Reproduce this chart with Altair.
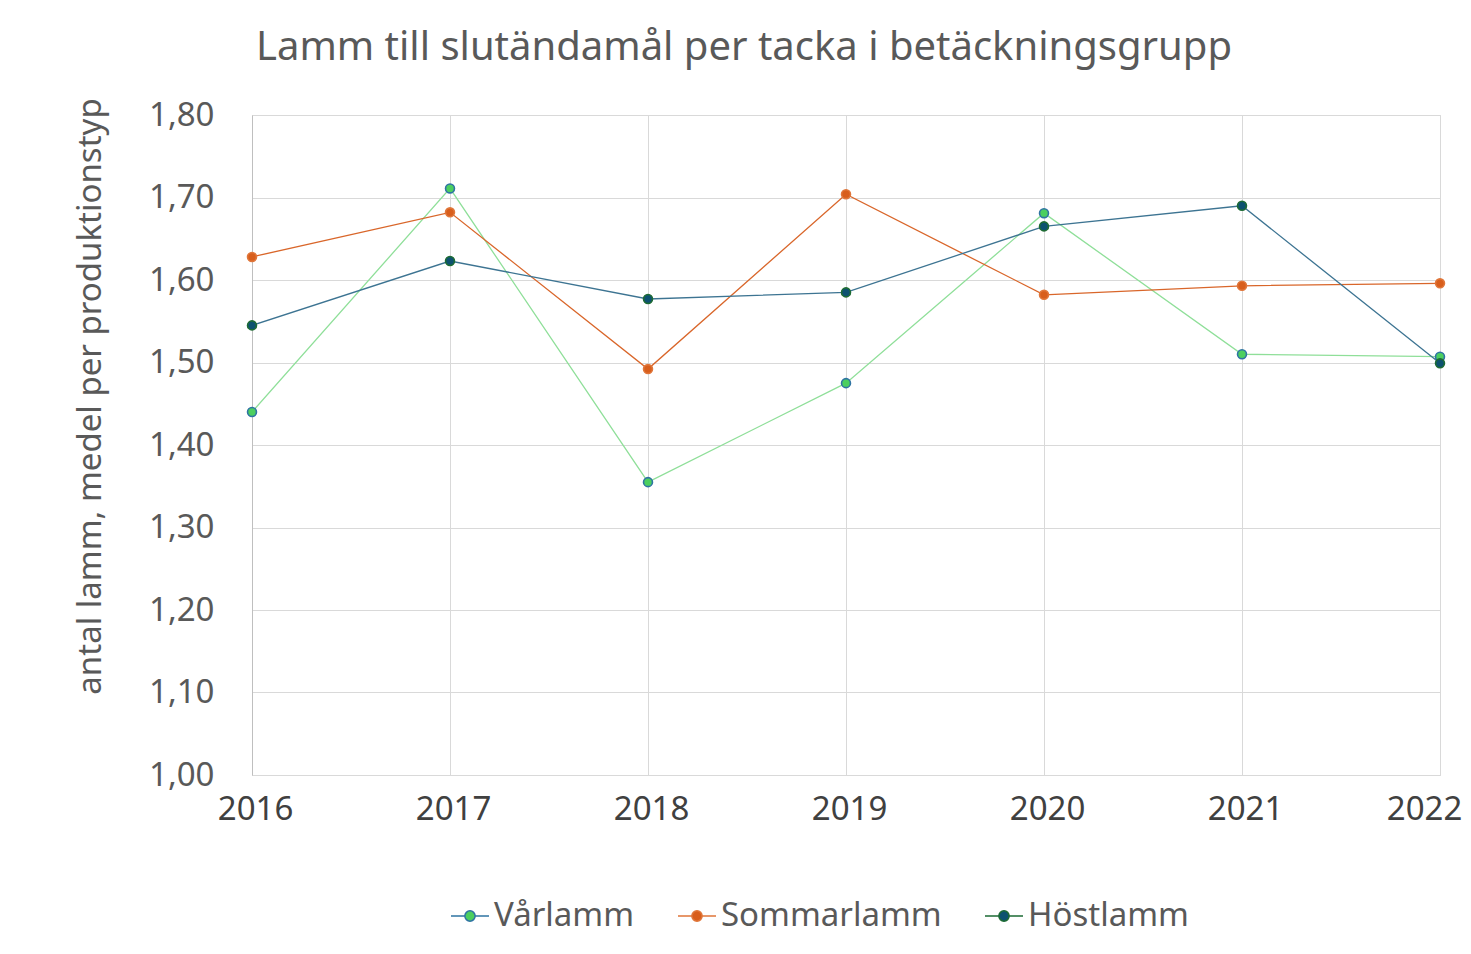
import altair as alt
import pandas as pd

years = [2016, 2017, 2018, 2019, 2020, 2021, 2022]
series_names = ["Vårlamm", "Sommarlamm", "Höstlamm"]
varlamm = [1.440, 1.711, 1.355, 1.475, 1.681, 1.510, 1.507]
sommarlamm = [1.628, 1.682, 1.492, 1.704, 1.582, 1.593, 1.596]
hostlamm = [1.545, 1.623, 1.577, 1.585, 1.665, 1.690, 1.499]
y_ticks = [1.0, 1.1, 1.2, 1.3, 1.4, 1.5, 1.6, 1.7, 1.8]

line_colors = ["#8fdf99", "#d9662a", "#3d7492"]
marker_fill = ["#4ccf5f", "#d85e1c", "#0d5270"]
marker_stroke = ["#2f74a3", "#e0763a", "#1d6b34"]

rows = []
for name, vals in zip(series_names, [varlamm, sommarlamm, hostlamm]):
    for yr, v in zip(years, vals):
        rows.append({"year": yr, "value": v, "serie": name})
df = pd.DataFrame(rows)

FONT = "Noto Sans"
TXT = "#595959"

x_enc = alt.X("year:Q", scale=alt.Scale(domain=[2016, 2022], nice=False),
              axis=alt.Axis(values=years, format="d", title=None, grid=True,
                            gridColor="#d9d9d9", domainColor="#d9d9d9", ticks=False,
                            labelPadding=18, labelFontSize=33, labelColor="#404040",
                            labelFont=FONT, labelFlush=False,
                            labelOffset={"condition": {"test": "datum.value == 2022", "value": -16}, "value": 3}))
y_enc = alt.Y("value:Q", scale=alt.Scale(domain=[1.0, 1.8], nice=False, zero=False),
              axis=alt.Axis(values=y_ticks, labelExpr="replace(format(datum.value, '.2f'), '.', ',')",
                            title="antal lamm, medel per produktionstyp", titleFontSize=33,
                            titleFont=FONT, titleColor=TXT, titleFontWeight="normal",
                            titleX=-162, titleY=281, titleBaseline="middle", titleAlign="center",
                            grid=True, gridColor="#d9d9d9", domainColor="#bfbfbf", ticks=False,
                            labelPadding=38, labelFontSize=33, labelColor=TXT, labelFont=FONT))

lines = alt.Chart(df).mark_line(strokeWidth=1.3).encode(
    x=x_enc, y=y_enc,
    color=alt.Color("serie:N", scale=alt.Scale(domain=series_names, range=line_colors), legend=None),
    detail="serie:N",
)

sym = "M-1,0L-0.27,0M0.27,0L1,0M0.27,0A0.27,0.27,0,1,1,-0.27,0A0.27,0.27,0,1,1,0.27,0Z"
leg = alt.Legend(title=None, orient="none", legendX=198, legendY=781,
                 direction="horizontal", symbolType=sym, symbolSize=1444,
                 symbolStrokeWidth=1.5, labelFontSize=33, labelFont=FONT, labelLimit=0,
                 labelColor=TXT, columnPadding=40)
points = alt.Chart(df).mark_point(filled=True, size=80, strokeWidth=1.6, opacity=1).encode(
    x=x_enc, y=y_enc,
    fill=alt.Fill("serie:N", scale=alt.Scale(domain=series_names, range=marker_fill), legend=leg),
    stroke=alt.Stroke("serie:N", scale=alt.Scale(domain=series_names, range=marker_stroke), legend=leg),
)

chart = alt.layer(lines, points).resolve_scale(color="independent", fill="independent", stroke="independent").properties(
    width=1188, height=660,
    title=alt.TitleParams("Lamm till slutändamål per tacka i betäckningsgrupp", anchor="start",
                          dx=4, offset=30, fontSize=40, font=FONT, color=TXT, fontWeight="normal",
                          frame="group"),
    autosize=alt.AutoSizeParams(type="none"),
    padding={"left": 244, "top": 107, "right": 23, "bottom": 171},
).configure_view(stroke="#d9d9d9")

chart.save("out.html", embed_options={"renderer": "svg", "actions": False})
